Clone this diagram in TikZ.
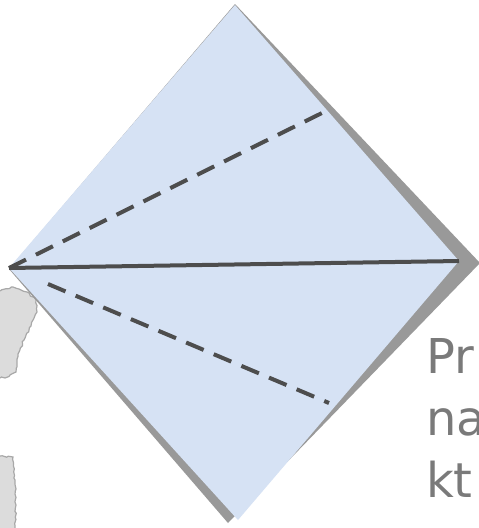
\documentclass[tikz,border=0pt]{standalone}
\usepackage{fontspec}
\setmainfont{DejaVu Sans}
\usetikzlibrary{decorations.pathmorphing}

\definecolor{kiteblue}{HTML}{D6E2F4}
\definecolor{kiteshadow}{HTML}{999999}
\definecolor{foldgrey}{HTML}{4D4D4D}
\definecolor{labelgrey}{HTML}{7A7A7A}
\definecolor{blobfill}{HTML}{DCDCDC}
\definecolor{blobedge}{HTML}{A8A8A8}

\tikzset{
    fold/.style={line width=4pt,foldgrey},
    folddash/.style={fold,dash pattern=on 19pt off 11pt},
    blob/.style={fill=blobfill,draw=blobedge,line width=1.2pt,
        decorate,decoration={random steps,segment length=3pt,amplitude=1pt}},
}

\begin{document}
\begin{tikzpicture}[x=1pt,y=-1pt]
            \clip (0, 0) rectangle (479, 528);
            \fill[white] (0, 0) rectangle (479, 528);

            % faded map pieces on the left
            \draw[blob] (0, 291) -- (13, 287) -- (27, 292) -- (36, 300) -- (37, 312)
                -- (31, 326) -- (24, 340) -- (18, 354) -- (16, 372) -- (5, 378) -- (0, 378);
            \draw[blob] (0, 456) -- (13, 457) -- (15, 480) -- (16, 505) -- (15, 530) -- (0, 530);

            % corners of the kite
            \coordinate (top)    at (235, 5);
            \coordinate (right)  at (459, 261);
            \coordinate (bottom) at (238, 520);
            \coordinate (left)   at (9, 268);

            \fill[kiteshadow] (235, 4) -- (480, 263) -- (228, 523) -- (9, 269) -- cycle;
            \fill[kiteblue] (top) -- (right) -- (bottom) -- (left) -- cycle;

            % folds
            \coordinate (upperEnd)   at (322, 113);
            \coordinate (lowerStart) at (48, 284);
            \coordinate (lowerEnd)   at (329, 403);

            \draw[fold] (left) -- (right);
            \draw[folddash] (left) -- (upperEnd);
            \draw[folddash] (lowerStart) -- (lowerEnd);

            \node[anchor=north west,inner sep=0pt,align=left,text=labelgrey,
                font=\fontsize{48}{62}\selectfont] (caption) at (426, 338) {Pr\\na\\kt};
        \end{tikzpicture}
\end{document}
